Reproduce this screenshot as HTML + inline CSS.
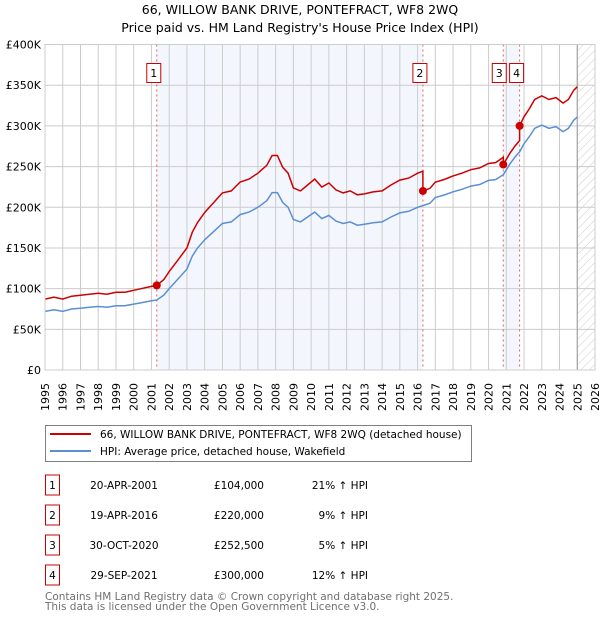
<!DOCTYPE html>
<html><head><meta charset="utf-8"><style>
body{margin:0;background:#fff;font-family:"Liberation Sans","DejaVu Sans",sans-serif;}
svg text{font-family:"DejaVu Sans","Liberation Sans",sans-serif;}
</style></head><body>
<svg id="chart" width="600" height="620" xmlns="http://www.w3.org/2000/svg">
<text x="300" y="14" text-anchor="middle" font-size="12.5">66, WILLOW BANK DRIVE, PONTEFRACT, WF8 2WQ</text>
<text x="300" y="32" text-anchor="middle" font-size="12.5">Price paid vs. HM Land Registry's House Price Index (HPI)</text>
<g id="plot"></g>
<g>
<rect x="45.5" y="425.5" width="426" height="36" fill="#fff" stroke="#808080"/>
<line x1="50" y1="434" x2="91" y2="434" stroke="#cc0000" stroke-width="2"/>
<text x="100" y="438" font-size="10.5">66, WILLOW BANK DRIVE, PONTEFRACT, WF8 2WQ (detached house)</text>
<line x1="50" y1="451" x2="91" y2="451" stroke="#5b8fd4" stroke-width="2"/>
<text x="100" y="455" font-size="10.5">HPI: Average price, detached house, Wakefield</text>
</g>
<g id="table" font-size="10.5"></g>
<text x="45" y="600" font-size="10.5" fill="#707070">Contains HM Land Registry data © Crown copyright and database right 2025.</text>
<text x="45" y="610" font-size="10.5" fill="#707070">This data is licensed under the Open Government Licence v3.0.</text>
</svg>
<script>
const hpiYears=[1995,1995.5,1996,1996.5,1997,1997.5,1998,1998.5,1999,1999.5,2000,2000.5,2001,2001.3,2001.7,2002,2002.5,2003,2003.3,2003.6,2004,2004.5,2005,2005.5,2006,2006.5,2007,2007.5,2007.8,2008.1,2008.4,2008.7,2009,2009.4,2009.8,2010.2,2010.6,2011,2011.4,2011.8,2012.2,2012.6,2013,2013.5,2014,2014.5,2015,2015.5,2016,2016.3,2016.7,2017,2017.5,2018,2018.5,2019,2019.5,2020,2020.4,2020.83,2021.2,2021.5,2021.75,2022,2022.3,2022.6,2023,2023.4,2023.8,2024.2,2024.5,2024.8,2025];
const hpiValues=[72,74,72,75,76,77,78,77,79,79,81,83,85,86,92,100,112,124,140,150,160,170,180,182,191,194,200,208,218,218,206,200,185,182,188,194,186,190,183,180,182,178,179,181,182,188,193,195,200,202,205,212,215,219,222,226,228,233,234,240,253,262,268,278,287,297,301,297,299,293,297,307,311];
const saleYears=[2001.3,2016.3,2020.83,2021.75];
const salePrices=[104,220,252.5,300];
const saleLabels=['1','2','3','4'];
const saleDates=['20-APR-2001','19-APR-2016','30-OCT-2020','29-SEP-2021'];
const salePriceText=['£104,000','£220,000','£252,500','£300,000'];
const salePct=['21% ↑ HPI','9% ↑ HPI','5% ↑ HPI','12% ↑ HPI'];
const yTicks=[0,50,100,150,200,250,300,350,400];
const yTickLabels=['£0','£50K','£100K','£150K','£200K','£250K','£300K','£350K','£400K'];
const xTicks=[1995,1996,1997,1998,1999,2000,2001,2002,2003,2004,2005,2006,2007,2008,2009,2010,2011,2012,2013,2014,2015,2016,2017,2018,2019,2020,2021,2022,2023,2024,2025,2026];

const L=45,R=595,T=44.5,B=370;
const X=y=>L+(y-1995)*(R-L)/31;
const Y=v=>B-v*(B-T)/400;
const NS='http://www.w3.org/2000/svg';
const plot=document.getElementById('plot');
function mk(tag,attrs,parent){const e=document.createElementNS(NS,tag);for(const k in attrs)e.setAttribute(k,attrs[k]);(parent||plot).appendChild(e);return e;}
function hpiAt(t){for(let i=0;i<hpiYears.length-1;i++){if(t<=hpiYears[i+1]){const f=(t-hpiYears[i])/(hpiYears[i+1]-hpiYears[i]);return hpiValues[i]+f*(hpiValues[i+1]-hpiValues[i]);}}return hpiValues[hpiValues.length-1];}

let sh=mk('rect',{x:X(saleYears[0]),y:T,width:X(saleYears[1])-X(saleYears[0]),height:B-T,fill:'#eef3fc',opacity:0.7});


let sh2=mk('rect',{x:X(saleYears[2]),y:T,width:X(saleYears[3])-X(saleYears[2]),height:B-T,fill:'#eef3fc',opacity:0.7});


const defs=mk('defs',{});
const pat=mk('pattern',{id:'hatch',width:6,height:6,patternUnits:'userSpaceOnUse',patternTransform:'rotate(45)'},defs);
mk('line',{x1:0,y1:0,x2:0,y2:6,stroke:'#ccc','stroke-width':1},pat);
let hz=mk('rect',{x:X(2025),y:T,width:R-X(2025),height:B-T,fill:'url(#hatch)'});


yTicks.forEach((v,i)=>{
 const g=mk('line',{x1:L,x2:R,y1:Y(v),y2:Y(v),stroke:'#cccccc'});
 
 
 const t=mk('text',{x:L-4,y:Y(v)+4,'text-anchor':'end','font-size':11});
 
 
 t.textContent=yTickLabels[i];
});
xTicks.forEach(yr=>{
 const g=mk('line',{x1:X(yr),x2:X(yr),y1:T,y2:B,stroke:'#cccccc'});
 
 
 const t=mk('text',{x:0,y:0,'text-anchor':'end','font-size':11,transform:`translate(${X(yr)+4},${383}) rotate(-90)`});
 
 
 t.textContent=yr;
});
mk('line',{x1:X(2025),x2:X(2025),y1:T,y2:B,stroke:'#999'});
saleYears.forEach((s,i)=>{
 const l=mk('line',{x1:X(s),x2:X(s),y1:T,y2:B,stroke:'#e06060','stroke-dasharray':'2,3'});
 
 
 const gx=(i==2)?X(s)-11:X(s)-10;
 const r=mk('rect',{x:gx,y:63.5,width:14,height:19,fill:'#fff',stroke:'#cc0000'});
 
 
 const t=mk('text',{x:gx+7,y:77,'text-anchor':'middle','font-size':11});
 
 
 t.textContent=saleLabels[i];
});
let d='';hpiYears.forEach((t,i)=>{d+=(i?'L':'M')+X(t).toFixed(1)+','+Y(hpiValues[i]).toFixed(1);});
const hl=mk('path',{d,fill:'none',stroke:'#5b8fd4','stroke-width':1.5});


function priceAt(t){let k=0;for(let j=0;j<saleYears.length;j++)if(t>=saleYears[j])k=j;return salePrices[k]*hpiAt(t)/hpiAt(saleYears[k]);}
const pts=[...hpiYears,...saleYears].sort((a,b)=>a-b);
let d2='';pts.forEach((t,i)=>{
 const si=saleYears.indexOf(t);
 if(si>0){d2+='L'+X(t).toFixed(1)+','+Y(salePrices[si-1]*hpiAt(t)/hpiAt(saleYears[si-1])).toFixed(1);}
 d2+=(i?'L':'M')+X(t).toFixed(1)+','+Y(priceAt(t)).toFixed(1);
});
const pl=mk('path',{d:d2,fill:'none',stroke:'#cc0000','stroke-width':1.5});


saleYears.forEach((s,i)=>{
 const c=mk('circle',{cx:X(s),cy:Y(salePrices[i]),r:4,fill:'#cc0000'});
 
 
});
mk('rect',{x:L,y:T,width:R-L,height:B-T,fill:'none',stroke:'#cccccc'});
const tb=document.getElementById('table');
saleLabels.forEach((lab,i)=>{
 const cy=485+i*30;
 const r=mk('rect',{x:45.5,y:cy-10,width:14,height:20,fill:'#fff',stroke:'#cc0000'},tb);
 
 
 const a=mk('text',{x:52.5,y:cy+4,'text-anchor':'middle'},tb);a.textContent=lab;
 
 
 const b=mk('text',{x:124,y:cy+4,'text-anchor':'middle'},tb);b.textContent=saleDates[i];
 
 
 const c=mk('text',{x:264,y:cy+4,'text-anchor':'end'},tb);c.textContent=salePriceText[i];
 
 
 const e=mk('text',{x:368,y:cy+4,'text-anchor':'end'},tb);e.textContent=salePct[i];
 
 
});
</script>
</body></html>
